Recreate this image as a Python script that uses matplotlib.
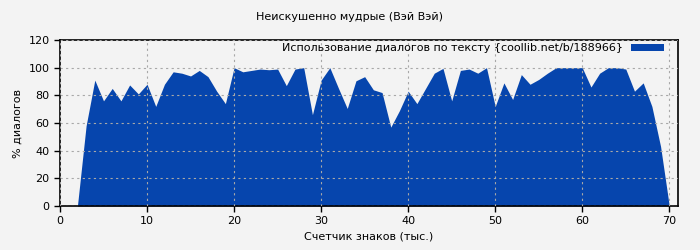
import matplotlib
matplotlib.use("Agg")
import matplotlib.pyplot as plt

x_thousands = list(range(2, 71))
usage_pct = [0, 58, 91, 76, 85, 76, 87.5, 81, 88, 72, 88, 97, 96, 94, 98, 93.5, 83, 74,
             100, 97, 98, 99, 98.5, 99, 87, 99, 100, 66, 91, 100, 85, 70.5, 90.5, 93.5,
             84, 82, 57, 69, 83, 74, 85, 96, 99.5, 76, 98, 99, 96, 100, 72, 89, 77, 95,
             88, 91.5, 96, 100, 100, 100, 100, 86, 96, 100, 100, 99, 83, 89, 72, 43, 0]
x_ticks = [0, 10, 20, 30, 40, 50, 60, 70]
y_ticks = [0, 20, 40, 60, 80, 100, 120]

bg = "#f3f3f3"
fig = plt.figure(figsize=(7, 2.5), dpi=100, facecolor=bg)
ax = fig.add_axes([60/700, 44/250, 618/700, 166/250], facecolor=bg)
ax.fill_between(x_thousands, usage_pct, 0, color="#0645ad", lw=0,
                label="Использование диалогов по тексту {coollib.net/b/188966}")
ax.set_xlim(0, 71)
ax.set_ylim(0, 120)
ax.set_xticks(x_ticks)
ax.set_yticks(y_ticks)
ax.grid(True, color="#a8a8a8", linestyle=(0, (2, 3)), linewidth=0.8)
ax.set_axisbelow(False)
ax.tick_params(labelsize=8, length=4, width=1)
for s in ax.spines.values():
    s.set_linewidth(1.2)
ax.set_xlabel("Счетчик знаков (тыс.)", fontsize=8)
ax.set_ylabel("% диалогов", fontsize=8)
fig.suptitle("Неискушенно мудрые (Вэй Вэй)", fontsize=8, y=0.95)
leg = ax.legend(loc="upper right", bbox_to_anchor=(1 - 11/618, 1.0),
                fontsize=8, frameon=False, markerfirst=False,
                handlelength=2.9, handleheight=0.6, borderaxespad=0.0,
                borderpad=0.3, handletextpad=0.8)
fig.savefig("out.png", dpi=100, facecolor=bg)
